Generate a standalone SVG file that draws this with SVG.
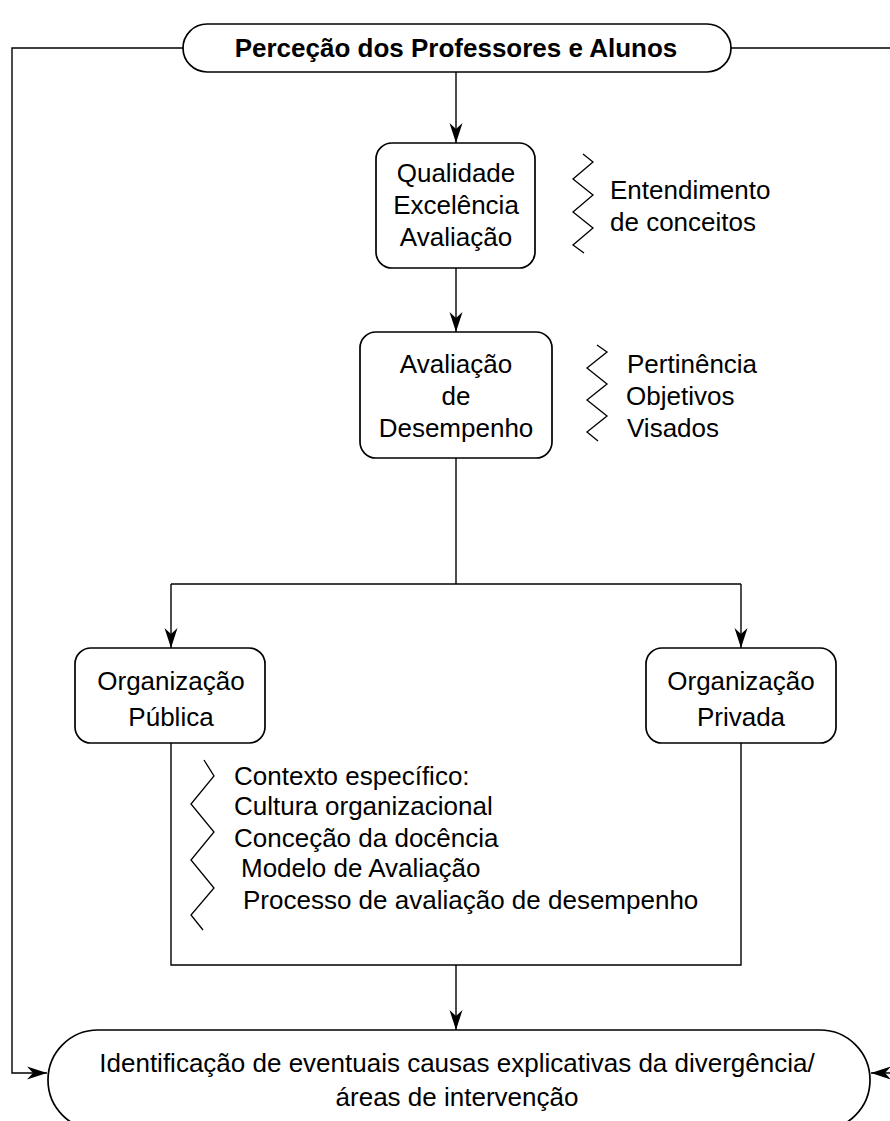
<svg xmlns="http://www.w3.org/2000/svg" width="890" height="1121" viewBox="0 0 890 1121">
<style>
.box{fill:#fff;stroke:#000;stroke-width:1.7}
.ln{fill:none;stroke:#000;stroke-width:1.4}
.zz{fill:none;stroke:#000;stroke-width:1.3;stroke-linejoin:miter}
text{font-family:"Liberation Sans",Arial,sans-serif;font-size:26px;fill:#000}
.c{text-anchor:middle}
.b{font-weight:bold}
</style>
<defs>
<marker id="ah" markerUnits="userSpaceOnUse" markerWidth="24" markerHeight="18" refX="0" refY="0" viewBox="-22 -9 24 18" orient="auto">
<path d="M0,0 L-20,-6.5 L-14,0 L-20,6.5 Z" fill="#000"/>
</marker>
</defs>
<g id="connectors">
<path class="ln" d="M183,48 H12 V1073 H47" marker-end="url(#ah)"/>
<path class="ln" d="M731,48 H891 V1073 H871" marker-end="url(#ah)"/>
<path class="ln" d="M456,72 V143" marker-end="url(#ah)"/>
<path class="ln" d="M456,268 V332" marker-end="url(#ah)"/>
<path class="ln" d="M456,458 V584"/>
<path class="ln" d="M171,584 H741"/>
<path class="ln" d="M171,584 V648" marker-end="url(#ah)"/>
<path class="ln" d="M741,584 V648" marker-end="url(#ah)"/>
<path class="ln" d="M171,743 V965 H741 V743"/>
<path class="ln" d="M456,965 V1030" marker-end="url(#ah)"/>
</g>
<g id="top">
<rect class="box" x="183" y="24" width="548" height="48" rx="24" ry="24"/>
<text class="c b" x="456" y="57">Perceção dos Professores e Alunos</text>
</g>
<g id="qualidade">
<rect class="box" x="376" y="143" width="159" height="125" rx="16" ry="16"/>
<text class="c" x="456" y="182">Qualidade</text>
<text class="c" x="456" y="214">Excelência</text>
<text class="c" x="456" y="246">Avaliação</text>
</g>
<g id="entendimento">
<path class="zz" d="M583,154 L593,162 L573,179 L593,195 L573,212 L593,228 L573,245 L584,253"/>
<text x="610" y="199">Entendimento</text>
<text x="610" y="231">de conceitos</text>
</g>
<g id="avaliacao">
<rect class="box" x="360" y="332" width="192" height="126" rx="16" ry="16"/>
<text class="c" x="456" y="373">Avaliação</text>
<text class="c" x="456" y="405">de</text>
<text class="c" x="456" y="437">Desempenho</text>
</g>
<g id="pertinencia">
<path class="zz" d="M597,345 L607,352 L587,368 L607,384 L587,400 L607,416 L587,432 L598,441"/>
<text x="627" y="373">Pertinência</text>
<text x="626" y="405">Objetivos</text>
<text x="627" y="437">Visados</text>
</g>
<g id="publica">
<rect class="box" x="75" y="648" width="190" height="95" rx="16" ry="16"/>
<text class="c" x="171" y="690">Organização</text>
<text class="c" x="171" y="726">Pública</text>
</g>
<g id="privada">
<rect class="box" x="646" y="648" width="190" height="95" rx="16" ry="16"/>
<text class="c" x="741" y="690">Organização</text>
<text class="c" x="741" y="726">Privada</text>
</g>
<g id="contexto">
<path class="zz" d="M204,760 L214,776 L191,804 L214,832 L191,860 L214,888 L191,915 L203,930"/>
<text x="234" y="785">Contexto específico:</text>
<text x="234" y="815">Cultura organizacional</text>
<text x="234" y="847">Conceção da docência</text>
<text x="241" y="877">Modelo de Avaliação</text>
<text x="243" y="909">Processo de avaliação de desempenho</text>
</g>
<g id="bottom">
<rect class="box" x="48" y="1030" width="822" height="100" rx="50" ry="50"/>
<text class="c" x="457" y="1072">Identificação de eventuais causas explicativas da divergência/</text>
<text class="c" x="457" y="1106">áreas de intervenção</text>
</g>
</svg>
